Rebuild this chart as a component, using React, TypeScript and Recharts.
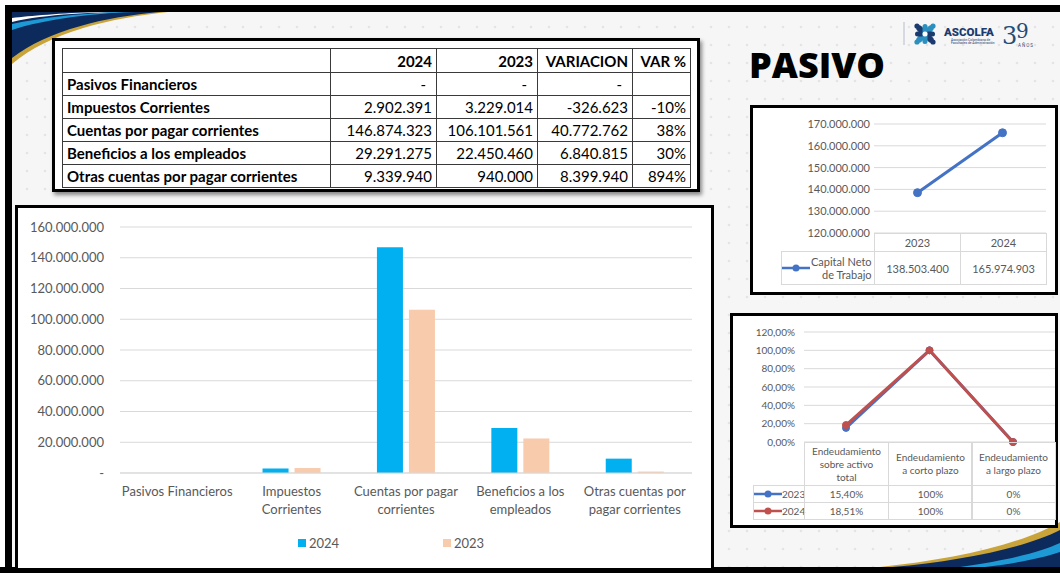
import React from "react";
import { BarChart, Bar, LineChart, Line, XAxis, YAxis, CartesianGrid } from "recharts";

// ---- table / bar chart data ----
const rowLabels = [
  "Pasivos Financieros",
  "Impuestos Corrientes",
  "Cuentas por pagar corrientes",
  "Beneficios a los empleados",
  "Otras cuentas por pagar corrientes",
];
const values2024 = [0, 2902391, 146874323, 29291275, 9339940];
const values2023 = [0, 3229014, 106101561, 22450460, 940000];
const variacion = [0, -326623, 40772762, 6840815, 8399940];
const varPct = ["", "-10%", "38%", "30%", "894%"];
const tableHeaders = ["", "2024", "2023", "VARIACION", "VAR %"];

const barTickLines = [
  ["Pasivos Financieros"],
  ["Impuestos", "Corrientes"],
  ["Cuentas por pagar", "corrientes"],
  ["Beneficios a los", "empleados"],
  ["Otras cuentas por", "pagar corrientes"],
];
const barTicks = [0, 20000000, 40000000, 60000000, 80000000, 100000000, 120000000, 140000000, 160000000];
const barSeries = [
  { key: "v2024", name: "2024", color: "#00b0f0" },
  { key: "v2023", name: "2023", color: "#f8cbad" },
];

// ---- capital neto de trabajo ----
const cntYears = ["2023", "2024"];
const cntValues = [138503400, 165974903];
const cntTicks = [120000000, 130000000, 140000000, 150000000, 160000000, 170000000];

// ---- endeudamiento ----
const endLines = [
  ["Endeudamiento", "sobre activo", "total"],
  ["Endeudamiento", "a corto plazo"],
  ["Endeudamiento", "a largo plazo"],
];
const end2023 = [15.4, 100, 0];
const end2024 = [18.51, 100, 0];
const end2023Labels = ["15,40%", "100%", "0%"];
const end2024Labels = ["18,51%", "100%", "0%"];
const endTicks = [0, 20, 40, 60, 80, 100, 120];

const CAL = "Lato, 'Noto Sans', sans-serif";
const GRAY = "#595959";

function fmt(n: number) {
  const s = Math.abs(Math.round(n)).toString().replace(/\B(?=(\d{3})+(?!\d))/g, ".");
  return (n < 0 ? "-" : "") + s;
}

const barData = rowLabels.map((name, i) => ({ name, v2024: values2024[i], v2023: values2023[i] }));
const cntData = cntYears.map((year, i) => ({ year, value: cntValues[i] }));
const endData = endLines.map((l, i) => ({ name: l.join(" "), y2023: end2023[i], y2024: end2024[i] }));

function BarTick(props: any) {
  const { x, y, index } = props;
  const lines = barTickLines[index] || [];
  return (
    <text x={x} y={y} textAnchor="middle" fill={GRAY} fontSize={13} fontFamily={CAL}>
      {lines.map((l, i) => (
        <tspan key={i} x={x} dy={i === 0 ? 15 : 18}>
          {l}
        </tspan>
      ))}
    </text>
  );
}

function Box({ x, y, w, h, children, style }: any) {
  return (
    <div
      style={{
        position: "absolute",
        left: x,
        top: y,
        width: w,
        height: h,
        boxSizing: "border-box",
        ...style,
      }}
    >
      {children}
    </div>
  );
}

// cell with light border for the mini chart data tables
function MiniCell({ x, y, w, h, children, align = "center" }: any) {
  return (
    <Box
      x={x}
      y={y}
      w={w + 1}
      h={h + 1}
      style={{
        border: "1px solid #d9d9d9",
        display: "flex",
        alignItems: "center",
        justifyContent: align,
        textAlign: "center",
        fontFamily: CAL,
        fontSize: 11,
        color: GRAY,
        lineHeight: "13px",
      }}
    >
      {children}
    </Box>
  );
}

function LegendLine({ color }: { color: string }) {
  return (
    <svg width={28} height={8} style={{ flex: "none" }}>
      <line x1={0} y1={4} x2={28} y2={4} stroke={color} strokeWidth={2.5} />
      <circle cx={14} cy={4} r={3.5} fill={color} />
    </svg>
  );
}

function Decorations() {
  return (
    <svg width={1060} height={573} style={{ position: "absolute", left: 0, top: 0 }}>
      <defs>
        <pattern id="dots" width={18} height={18} patternUnits="userSpaceOnUse">
          <circle cx={9} cy={9} r={1.3} fill="#e4e4e4" />
        </pattern>
      </defs>
      <rect x={0} y={0} width={1060} height={573} fill="#ffffff" />
      <rect x={12} y={12} width={1048} height={556} fill="#f6f6f6" />
      <rect x={12} y={12} width={1048} height={556} fill="url(#dots)" />
      {/* slide black border */}
      <rect x={5} y={5} width={1055} height={7} fill="#000" />
      <rect x={5} y={5} width={7} height={568} fill="#000" />
      <rect x={0} y={567} width={1060} height={6} fill="#000" />
      {/* top-left swoosh */}
      <path d="M12 12 L168 12 C 110 18, 50 32, 12 64 Z" fill="#c9a43a" />
      <path d="M12 12 L160 12 C 105 17, 48 30, 12 58 Z" fill="#0c2a5c" />
      <path d="M12 22 C 45 14, 95 12, 140 12 L 100 12 C 60 13, 30 16, 12 18 Z" fill="#ffffff" />
      <path d="M12 30 C 45 19, 95 13, 135 12 L 115 12 C 75 14, 40 18, 12 24 Z" fill="#1d9ad6" />
      {/* bottom-right swoosh */}
      <path d="M880 567 C 950 560, 1020 545, 1060 522 L1060 567 Z" fill="#c9a43a" />
      <path d="M892 567 C 960 561, 1025 548, 1060 530 L1060 567 Z" fill="#0c2a5c" />
      <path d="M960 567 C 1010 560, 1040 552, 1060 543 L1060 552 C 1040 559, 1010 564, 985 567 Z" fill="#1d9ad6" />
      {/* logo */}
      <line x1={904} y1={22} x2={904} y2={45} stroke="#b5bccb" strokeWidth={1} />
      <g transform="translate(925 34)">
        <rect x={-11} y={-3} width={22} height={6} rx={3} fill="#1b3b6f" transform="rotate(45)" />
        <rect x={-11} y={-3} width={22} height={6} rx={3} fill="#2b8fc0" transform="rotate(-45)" />
        <rect x={-10} y={-2.5} width={20} height={5} rx={2.5} fill="#1b3b6f" />
        <rect x={-2.5} y={-10} width={5} height={20} rx={2.5} fill="#2b8fc0" />
        <circle cx={-8} cy={-8} r={2.6} fill="#1b3b6f" />
        <circle cx={8} cy={-8} r={2.6} fill="#2b8fc0" />
        <circle cx={-8} cy={8} r={2.6} fill="#2b8fc0" />
        <circle cx={8} cy={8} r={2.6} fill="#1b3b6f" />
        <circle cx={0} cy={0} r={2.5} fill="#ffffff" />
      </g>
      <text x={944} y={36} fontFamily="Roboto, sans-serif" fontWeight={900} fontSize={11.5} fill="#1b3b6f">
        ASCOLFA
      </text>
      <text x={951} y={40.5} fontFamily="Roboto, sans-serif" fontSize={3.3} fill="#1b3b6f">
        Asociación Colombiana de
      </text>
      <text x={951} y={44} fontFamily="Roboto, sans-serif" fontSize={3.3} fill="#1b3b6f">
        Facultades de Administración
      </text>
      <text x={1002} y={44} fontFamily="'DejaVu Serif', serif" fontSize={24} fill="#1f4e79">
        3
      </text>
      <text x={1016} y={38} fontFamily="'DejaVu Serif', serif" fontSize={20} fill="#1f4e79">
        9
      </text>
      <text x={1018} y={47} fontFamily="Roboto, sans-serif" fontSize={4.5} letterSpacing={1} fill="#1f4e79">
        AÑOS
      </text>
    </svg>
  );
}

function MainTable() {
  const colW = [268, 106, 101, 95, 58];
  const rowH = [24, 23, 23, 23, 23, 23];
  const cellBase: React.CSSProperties = {
    border: "1px solid #3a3a3a",
    padding: "0 4px",
    fontFamily: CAL,
    fontSize: 15,
    color: "#000",
    whiteSpace: "nowrap",
    overflow: "hidden",
  };
  const num = (v: number) => (v === 0 ? "-" : fmt(v));
  return (
    <>
      <Box
        x={52}
        y={38}
        w={648}
        h={154}
        style={{ border: "3px solid #000", background: "#fff", boxShadow: "2px 3px 4px rgba(0,0,0,0.45)" }}
      />
      <table
        style={{
          position: "absolute",
          left: 62,
          top: 48,
          borderCollapse: "collapse",
          tableLayout: "fixed",
          width: colW.reduce((a, b) => a + b, 0),
        }}
      >
        <colgroup>
          {colW.map((w, i) => (
            <col key={i} style={{ width: w }} />
          ))}
        </colgroup>
        <tbody>
          <tr style={{ height: rowH[0] }}>
            {tableHeaders.map((h, i) => (
              <td key={i} style={{ ...cellBase, fontWeight: 700, textAlign: "right" }}>
                {h}
              </td>
            ))}
          </tr>
          {rowLabels.map((label, r) => (
            <tr key={r} style={{ height: rowH[r + 1] }}>
              <td style={{ ...cellBase, fontWeight: 700, textAlign: "left" }}>{label}</td>
              {[values2024[r], values2023[r], variacion[r]].map((v, c) => (
                <td key={c} style={{ ...cellBase, textAlign: "right", paddingRight: v === 0 ? 10 : 4 }}>
                  {num(v)}
                </td>
              ))}
              <td style={{ ...cellBase, textAlign: "right" }}>{varPct[r]}</td>
            </tr>
          ))}
        </tbody>
      </table>
    </>
  );
}

function BarPanel() {
  return (
    <>
      <Box x={15} y={205} w={699} h={366} style={{ border: "3px solid #000", background: "#fff" }} />
      <div style={{ position: "absolute", left: 18, top: 208 }}>
        <BarChart
          width={690}
          height={315}
          data={barData}
          margin={{ top: 19, right: 16, left: 0, bottom: 0 }}
          barGap={6}
          barCategoryGap="24.6%"
        >
          <CartesianGrid vertical={false} stroke="#d9d9d9" />
          <XAxis
            dataKey="name"
            height={50}
            interval={0}
            axisLine={{ stroke: "#d9d9d9" }}
            tickLine={false}
            tick={<BarTick />}
          />
          <YAxis
            width={102}
            domain={[0, 160000000]}
            ticks={barTicks}
            interval={0}
            axisLine={false}
            tickLine={false}
            tickSize={0}
            tickMargin={16}
            tick={{ fill: GRAY, fontSize: 13, fontFamily: CAL }}
            tickFormatter={(v: number) => (v === 0 ? "-" : fmt(v))}
          />
          {barSeries.map((s) => (
            <Bar key={s.key} dataKey={s.key} name={s.name} fill={s.color} isAnimationActive={false} />
          ))}
        </BarChart>
      </div>
      {/* legend */}
      {barSeries.map((s, i) => (
        <div
          key={s.key}
          style={{
            position: "absolute",
            left: 298 + i * 145,
            top: 535,
            display: "flex",
            alignItems: "center",
            fontFamily: CAL,
            fontSize: 13,
            color: GRAY,
          }}
        >
          <span style={{ display: "inline-block", width: 8, height: 8, background: s.color, marginRight: 3 }} />
          {s.name}
        </div>
      ))}
    </>
  );
}

function CapitalPanel() {
  return (
    <>
      <Box x={750} y={105} w={308} h={190} style={{ border: "3px solid #000", background: "#fff" }} />
      <div style={{ position: "absolute", left: 753, top: 108 }}>
        <LineChart width={295} height={135} data={cntData} margin={{ top: 16, right: 2, left: 0, bottom: 10 }}>
          <CartesianGrid vertical={false} stroke="#d9d9d9" />
          <XAxis dataKey="year" hide padding={{ left: 43.5, right: 43.5 }} />
          <YAxis
            width={121}
            domain={[120000000, 170000000]}
            ticks={cntTicks}
            interval={0}
            axisLine={false}
            tickLine={false}
            tickSize={0}
            tickMargin={4}
            tick={{ fill: GRAY, fontSize: 11, fontFamily: CAL }}
            tickFormatter={(v: number) => fmt(v)}
          />
          <Line
            dataKey="value"
            stroke="#4472c4"
            strokeWidth={3}
            dot={{ r: 4, fill: "#4472c4", stroke: "#4472c4", strokeWidth: 1 }}
            isAnimationActive={false}
          />
        </LineChart>
      </div>
      {cntYears.map((y, i) => (
        <MiniCell key={"h" + y} x={874 + i * 86} y={233} w={86} h={18}>
          {y}
        </MiniCell>
      ))}
      <MiniCell x={781} y={251} w={93} h={33} align="flex-start">
        <LegendLine color="#4472c4" />
        <span style={{ textAlign: "right", marginLeft: 1 }}>
          Capital Neto
          <br />
          de Trabajo
        </span>
      </MiniCell>
      {cntValues.map((v, i) => (
        <MiniCell key={"v" + i} x={874 + i * 86} y={251} w={86} h={33}>
          {fmt(v)}
        </MiniCell>
      ))}
    </>
  );
}

function EndeudamientoPanel() {
  const colX = [804, 888, 971];
  const colW = 84;
  return (
    <>
      <Box x={730} y={313} w={328} h={215} style={{ border: "3px solid #000", background: "#fff" }} />
      <div style={{ position: "absolute", left: 733, top: 316 }}>
        <LineChart width={323} height={136} data={endData} margin={{ top: 16, right: 1, left: 0, bottom: 10 }}>
          <CartesianGrid vertical={false} stroke="#d9d9d9" />
          <XAxis dataKey="name" hide padding={{ left: 42, right: 42 }} />
          <YAxis
            width={71}
            domain={[0, 120]}
            ticks={endTicks}
            interval={0}
            axisLine={false}
            tickLine={false}
            tickSize={0}
            tickMargin={9}
            tick={{ fill: GRAY, fontSize: 10, fontFamily: CAL }}
            tickFormatter={(v: number) => v.toFixed(2).replace(".", ",") + "%"}
          />
          <Line
            dataKey="y2023"
            stroke="#4472c4"
            strokeWidth={3}
            dot={{ r: 3.5, fill: "#4472c4", stroke: "#4472c4", strokeWidth: 1 }}
            isAnimationActive={false}
          />
          <Line
            dataKey="y2024"
            stroke="#c0504d"
            strokeWidth={3}
            dot={{ r: 3.5, fill: "#c0504d", stroke: "#c0504d", strokeWidth: 1 }}
            isAnimationActive={false}
          />
        </LineChart>
      </div>
      {endLines.map((lines, i) => (
        <MiniCell key={"c" + i} x={colX[i]} y={442} w={colW} h={43}>
          <span style={{ fontSize: 10, lineHeight: "13px" }}>
            {lines.map((l, j) => (
              <React.Fragment key={j}>
                {j > 0 && <br />}
                {l}
              </React.Fragment>
            ))}
          </span>
        </MiniCell>
      ))}
      {[
        { name: "2023", color: "#4472c4", labels: end2023Labels },
        { name: "2024", color: "#c0504d", labels: end2024Labels },
      ].map((s, r) => (
        <React.Fragment key={s.name}>
          <MiniCell x={753} y={485 + r * 17} w={51} h={17} align="flex-start">
            <LegendLine color={s.color} />
            <span style={{ fontSize: 10 }}>{s.name}</span>
          </MiniCell>
          {s.labels.map((t, i) => (
            <MiniCell key={i} x={colX[i]} y={485 + r * 17} w={colW} h={17}>
              <span style={{ fontSize: 10 }}>{t}</span>
            </MiniCell>
          ))}
        </React.Fragment>
      ))}
    </>
  );
}

export default function App() {
  return (
    <div style={{ position: "absolute", left: 0, top: 0, width: 1060, height: 573, overflow: "hidden" }}>
      <Decorations />
      <MainTable />
      <div
        style={{
          position: "absolute",
          left: 749,
          top: 40,
          fontFamily: "'Open Sans', sans-serif",
          fontWeight: 800,
          fontSize: 36,
          color: "#000",
          lineHeight: "50px",
        }}
      >
        PASIVO
      </div>
      <BarPanel />
      <CapitalPanel />
      <EndeudamientoPanel />
    </div>
  );
}
